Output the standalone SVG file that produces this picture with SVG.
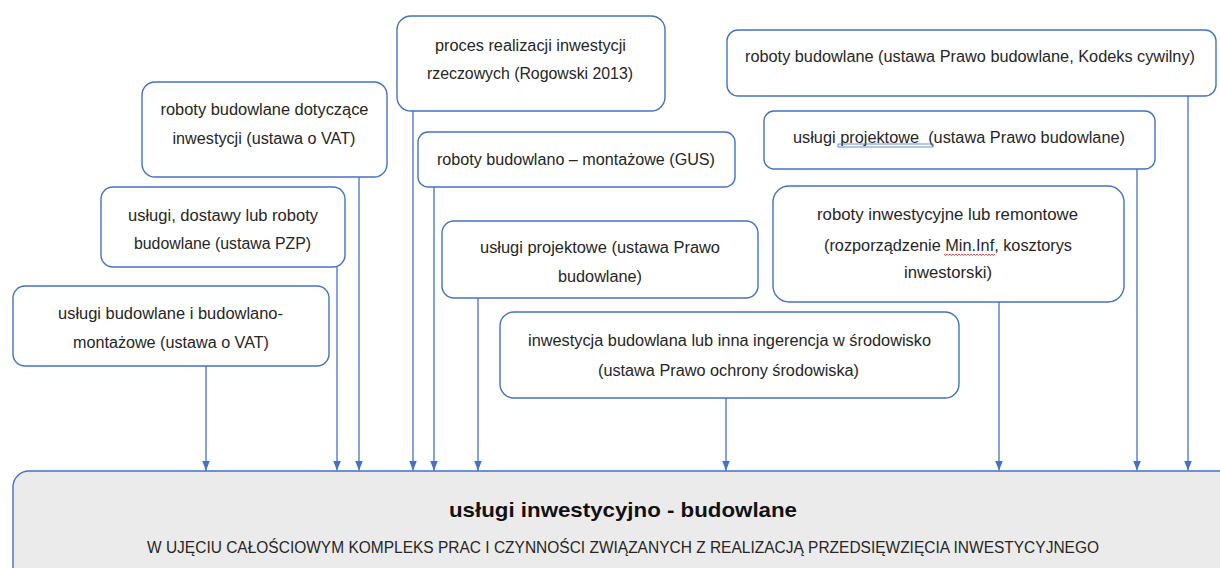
<svg xmlns="http://www.w3.org/2000/svg" width="1220" height="568" viewBox="0 0 1220 568">
<style>
.box{fill:#ffffff;stroke:#4472c4;stroke-width:1.4}
.big{fill:#ebebeb;stroke:#4472c4;stroke-width:1.4}
.t{font-family:"Liberation Sans",Arial,sans-serif;font-size:16px;fill:#262626;text-anchor:middle}
.title{font-family:"Liberation Sans",Arial,sans-serif;font-size:21px;font-weight:bold;fill:#111111;text-anchor:middle}
.sub{font-family:"Liberation Sans",Arial,sans-serif;font-size:16px;fill:#262626;text-anchor:middle}
.conn line{stroke:#4472c4;stroke-width:1.3}
</style>
<defs>
<marker id="arr" viewBox="0 0 10 8" refX="10" refY="4" markerWidth="10" markerHeight="8" orient="auto" markerUnits="userSpaceOnUse">
<path d="M0,0 L10,4 L0,8 z" fill="#4472c4"/>
</marker>
</defs>
<rect width="1220" height="568" fill="#ffffff"/>

<g id="main">
<rect class="big" x="13" y="471" width="1240" height="130" rx="16"/>
<text class="title" x="623" y="517" textLength="348" lengthAdjust="spacingAndGlyphs">usługi inwestycyjno - budowlane</text>
<text class="sub" x="623" y="553" textLength="952" lengthAdjust="spacingAndGlyphs">W UJĘCIU CAŁOŚCIOWYM KOMPLEKS PRAC I CZYNNOŚCI ZWIĄZANYCH Z REALIZACJĄ PRZEDSIĘWZIĘCIA INWESTYCYJNEGO</text>
</g>

<g class="conn" id="connectors">
<line x1="206" y1="366" x2="206" y2="470.5" marker-end="url(#arr)"/>
<line x1="337" y1="267" x2="337" y2="470.5" marker-end="url(#arr)"/>
<line x1="359" y1="177" x2="359" y2="470.5" marker-end="url(#arr)"/>
<line x1="413" y1="111" x2="413" y2="470.5" marker-end="url(#arr)"/>
<line x1="434" y1="187" x2="434" y2="470.5" marker-end="url(#arr)"/>
<line x1="478" y1="298" x2="478" y2="470.5" marker-end="url(#arr)"/>
<line x1="726" y1="398" x2="726" y2="470.5" marker-end="url(#arr)"/>
<line x1="999" y1="302" x2="999" y2="470.5" marker-end="url(#arr)"/>
<line x1="1137" y1="169" x2="1137" y2="470.5" marker-end="url(#arr)"/>
<line x1="1188" y1="96" x2="1188" y2="470.5" marker-end="url(#arr)"/>
</g>

<g id="n1">
<rect class="box" x="142" y="82" width="245" height="95" rx="13"/>
<text class="t" x="264.5" y="115" textLength="208" lengthAdjust="spacingAndGlyphs">roboty budowlane dotyczące</text>
<text class="t" x="264" y="144" textLength="183" lengthAdjust="spacingAndGlyphs">inwestycji (ustawa o VAT)</text>
</g>

<g id="n2">
<rect class="box" x="101" y="187" width="244" height="80" rx="12"/>
<text class="t" x="223" y="221" textLength="190" lengthAdjust="spacingAndGlyphs">usługi, dostawy lub roboty</text>
<text class="t" x="222.5" y="249" textLength="177" lengthAdjust="spacingAndGlyphs">budowlane (ustawa PZP)</text>
</g>

<g id="n3">
<rect class="box" x="13" y="286" width="316" height="80" rx="12"/>
<text class="t" x="170.5" y="319" textLength="225" lengthAdjust="spacingAndGlyphs">usługi budowlane i budowlano-</text>
<text class="t" x="171" y="348" textLength="196" lengthAdjust="spacingAndGlyphs">montażowe (ustawa o VAT)</text>
</g>

<g id="n4">
<rect class="box" x="397" y="16" width="268" height="95" rx="14"/>
<text class="t" x="530.5" y="51" textLength="191" lengthAdjust="spacingAndGlyphs">proces realizacji inwestycji</text>
<text class="t" x="530" y="79" textLength="206" lengthAdjust="spacingAndGlyphs">rzeczowych (Rogowski 2013)</text>
</g>

<g id="n5">
<rect class="box" x="418" y="132" width="317" height="55" rx="10"/>
<text class="t" x="576" y="165" textLength="278" lengthAdjust="spacingAndGlyphs">roboty budowlano – montażowe (GUS)</text>
</g>

<g id="n6">
<rect class="box" x="442" y="221" width="316" height="77" rx="12"/>
<text class="t" x="600" y="253" textLength="240" lengthAdjust="spacingAndGlyphs">usługi projektowe (ustawa Prawo</text>
<text class="t" x="600" y="282" textLength="84" lengthAdjust="spacingAndGlyphs">budowlane)</text>
</g>

<g id="n7">
<rect class="box" x="727" y="30" width="489" height="66" rx="11"/>
<text class="t" x="970" y="62" textLength="450" lengthAdjust="spacingAndGlyphs">roboty budowlane (ustawa Prawo budowlane, Kodeks cywilny)</text>
</g>

<g id="n8">
<rect class="box" x="764" y="111" width="391" height="58" rx="10"/>
<text class="t" x="959" y="143" textLength="332" lengthAdjust="spacingAndGlyphs" style="white-space:pre">usługi projektowe  (ustawa Prawo budowlane)</text>
<rect x="838" y="144" width="95" height="3" fill="none" stroke="#4472c4" stroke-width="0.8"/>
</g>

<g id="n9">
<rect class="box" x="773" y="186" width="351" height="116" rx="16"/>
<text class="t" x="947.5" y="220" textLength="261" lengthAdjust="spacingAndGlyphs">roboty inwestycyjne lub remontowe</text>
<text class="t" x="948" y="251" textLength="248" lengthAdjust="spacingAndGlyphs">(rozporządzenie Min.Inf, kosztorys</text>
<text class="t" x="948" y="278" textLength="88" lengthAdjust="spacingAndGlyphs">inwestorski)</text>
<path d="M944,254 l1.5,1.5 l1.5,-1.5 l1.5,1.5 l1.5,-1.5 l1.5,1.5 l1.5,-1.5 l1.5,1.5 l1.5,-1.5 l1.5,1.5 l1.5,-1.5 l1.5,1.5 l1.5,-1.5 l1.5,1.5 l1.5,-1.5 l1.5,1.5 l1.5,-1.5 l1.5,1.5 l1.5,-1.5 l1.5,1.5 l1.5,-1.5 l1.5,1.5 l1.5,-1.5 l1.5,1.5 l1.5,-1.5 l1.5,1.5 l1.5,-1.5 l1.5,1.5 l1.5,-1.5 l1.5,1.5 l1.5,-1.5 l1.5,1.5 l1.5,-1.5 l1.5,1.5 l1.5,-1.5" fill="none" stroke="#e02020" stroke-width="0.8"/>
</g>

<g id="n10">
<rect class="box" x="500" y="312" width="459" height="86" rx="14"/>
<text class="t" x="729.5" y="346" textLength="403" lengthAdjust="spacingAndGlyphs">inwestycja budowlana lub inna ingerencja w środowisko</text>
<text class="t" x="728.5" y="376" textLength="261" lengthAdjust="spacingAndGlyphs">(ustawa Prawo ochrony środowiska)</text>
</g>
</svg>
